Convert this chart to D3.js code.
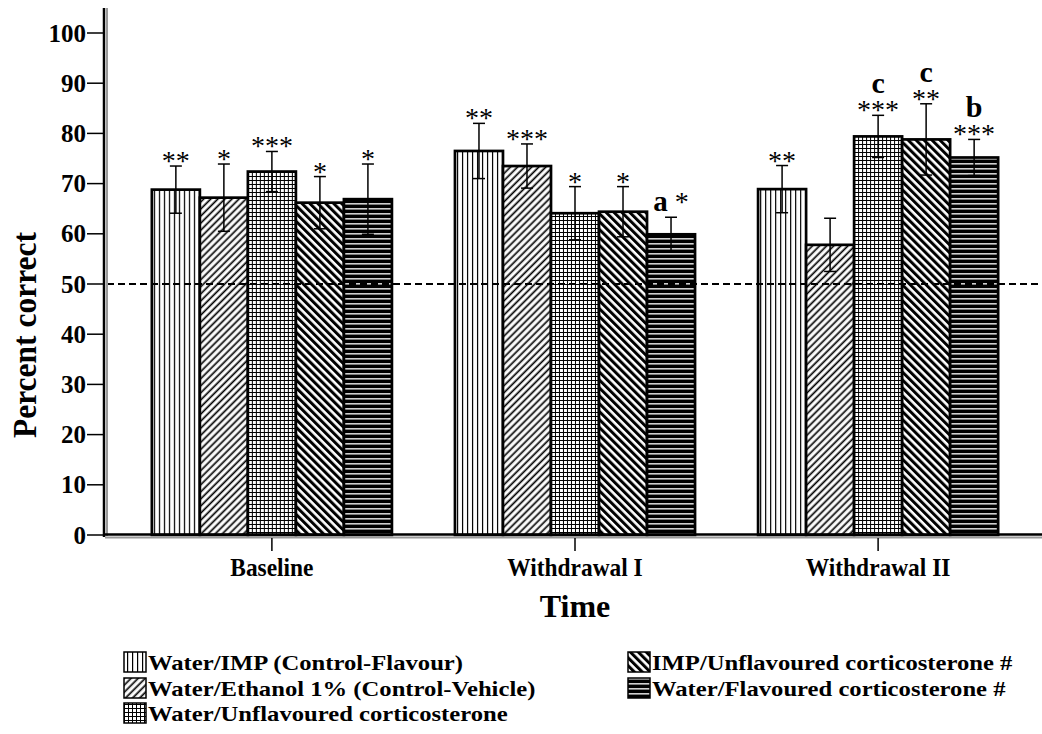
<!DOCTYPE html>
<html lang="en">
<head>
<meta charset="UTF-8">
<title>Percent correct over time</title>
<script src="https://d3js.org/d3.v7.min.js"></script>
<style>
  body { margin: 0; background: #fff; }
  svg { display: block; font-family: 'Liberation Serif', 'Times New Roman', serif; }
</style>
</head>
<body>
<svg id="chart" width="1042" height="734"></svg>
<script>
// groups on the x axis
const groups = ["Baseline", "Withdrawal I", "Withdrawal II"];

// the five treatment groups (legend order)
const series = [
  "Water/IMP (Control-Flavour)",
  "Water/Ethanol 1% (Control-Vehicle)",
  "Water/Unflavoured corticosterone",
  "IMP/Unflavoured corticosterone #",
  "Water/Flavoured corticosterone #"
];

// mean percent correct, one array per time point
const meanBaseline = [68.8, 67.2, 72.4, 66.2, 66.9];
const meanWithdrawal1 = [76.5, 73.5, 64.1, 64.4, 59.9];
const meanWithdrawal2 = [68.9, 57.8, 79.4, 78.8, 75.2];

// error (SEM)
const semBaseline = [4.7, 6.7, 4.0, 5.2, 7.0];
const semWithdrawal1 = [5.5, 4.4, 5.3, 5.0, 3.4];
const semWithdrawal2 = [4.7, 5.3, 4.2, 7.1, 3.6];

// significance marks
const starsBaseline = ["**", "*", "***", "*", "*"];
const starsWithdrawal1 = ["**", "***", "*", "*", "*"];
const starsWithdrawal2 = ["**", "", "***", "**", "***"];
const lettersWithdrawal1 = ["", "", "", "", "a"];
const lettersWithdrawal2 = ["", "", "c", "c", "b"];

const yTicks = [0, 10, 20, 30, 40, 50, 60, 70, 80, 90, 100];
const chanceLevel = 50;

const means = [meanBaseline, meanWithdrawal1, meanWithdrawal2];
const sems = [semBaseline, semWithdrawal1, semWithdrawal2];
const stars = [starsBaseline, starsWithdrawal1, starsWithdrawal2];
const letters = [["", "", "", "", ""], lettersWithdrawal1, lettersWithdrawal2];

const svg = d3.select("#chart");

// ---- fill patterns (black & white hatches) ----
const defs = svg.append("defs");

function pat(id, w, h, rot) {
  const p = defs.append("pattern")
    .attr("id", id)
    .attr("patternUnits", "userSpaceOnUse")
    .attr("width", w).attr("height", h);
  if (rot) p.attr("patternTransform", "rotate(" + rot + ")");
  return p;
}
// vertical lines
let p = pat("p0", 5, 10);
p.append("rect").attr("width", 5).attr("height", 10).attr("fill", "#fff");
p.append("rect").attr("x", 2).attr("width", 1.2).attr("height", 10).attr("fill", "#000");
// forward diagonal
p = pat("p1", 5, 10, 45);
p.append("rect").attr("width", 5).attr("height", 10).attr("fill", "#fff");
p.append("rect").attr("x", 1.5).attr("width", 1.7).attr("height", 10).attr("fill", "#000");
// grid
p = pat("p2", 4, 4);
p.append("rect").attr("width", 4).attr("height", 4).attr("fill", "#fff");
p.append("rect").attr("width", 4).attr("height", 1).attr("fill", "#000");
p.append("rect").attr("width", 1).attr("height", 4).attr("fill", "#000");
// backward diagonal, heavy
p = pat("p3", 5.6, 10, -45);
p.append("rect").attr("width", 5.6).attr("height", 10).attr("fill", "#fff");
p.append("rect").attr("x", 0).attr("width", 3).attr("height", 10).attr("fill", "#000");
// horizontal lines, heavy
p = pat("p4", 10, 5);
p.append("rect").attr("width", 10).attr("height", 5).attr("fill", "#000");
p.append("rect").attr("y", 3).attr("width", 10).attr("height", 1.6).attr("fill", "#d0d0d0");

// ---- scales ----
const y = d3.scaleLinear().domain([0, 100]).range([535, 33]);
const x0 = d3.scaleBand().domain(groups).range([107, 1043])
  .paddingInner(0.208).paddingOuter(0.148);
const x1 = d3.scaleBand().domain(d3.range(series.length)).range([0, x0.bandwidth()]);

// ---- bars ----
const g = svg.append("g");
groups.forEach((grp, gi) => {
  const gg = g.append("g").attr("transform", "translate(" + x0(grp) + ",0)");
  const rows = means[gi].map((m, i) => ({ i: i, m: m, e: sems[gi][i], s: stars[gi][i], l: letters[gi][i] }));

  gg.selectAll("rect.bar").data(rows).enter().append("rect")
    .attr("class", "bar")
    .attr("x", d => x1(d.i))
    .attr("y", d => y(d.m))
    .attr("width", x1.bandwidth())
    .attr("height", d => y(0) - y(d.m))
    .attr("fill", d => "url(#p" + d.i + ")")
    .attr("stroke", "#000")
    .attr("stroke-width", 2.7);

  // error bars
  const eb = gg.selectAll("g.err").data(rows).enter().append("g").attr("class", "err")
    .attr("stroke", "#000").attr("stroke-width", 1.5);
  const cx = d => x1(d.i) + x1.bandwidth() / 2;
  eb.append("line").attr("x1", cx).attr("x2", cx)
    .attr("y1", d => y(d.m - d.e)).attr("y2", d => y(d.m + d.e));
  eb.append("line").attr("x1", d => cx(d) - 6).attr("x2", d => cx(d) + 6)
    .attr("y1", d => y(d.m + d.e)).attr("y2", d => y(d.m + d.e));
  eb.append("line").attr("x1", d => cx(d) - 6).attr("x2", d => cx(d) + 6)
    .attr("y1", d => y(d.m - d.e)).attr("y2", d => y(d.m - d.e));

  // significance marks
  rows.forEach(d => {
    const top = y(d.m + d.e);
    if (d.l && gi === 1) {
      // letter on the same line as the star
      const t = gg.append("text").attr("x", cx(d)).attr("y", top - 6)
        .attr("text-anchor", "middle");
      t.append("tspan").attr("font-weight", "bold").attr("font-size", 29).text(d.l);
      t.append("tspan").attr("font-size", 28).text(" " + d.s);
      return;
    }
    const sb = top + 4;
    if (d.s) {
      gg.append("text").attr("x", cx(d)).attr("y", sb)
        .attr("text-anchor", "middle").attr("font-size", 28).text(d.s);
    }
    if (d.l) {
      gg.append("text").attr("x", cx(d)).attr("y", sb - 26)
        .attr("text-anchor", "middle").attr("font-size", 30)
        .attr("font-weight", "bold").text(d.l);
    }
  });
});

// chance line
svg.append("line")
  .attr("x1", 107).attr("x2", 1042)
  .attr("y1", y(chanceLevel)).attr("y2", y(chanceLevel))
  .attr("stroke", "#000").attr("stroke-width", 2).attr("stroke-dasharray", "7,4");

// ---- axes ----
svg.append("line").attr("x1", 104).attr("x2", 104).attr("y1", 8).attr("y2", 537)
  .attr("stroke", "#000").attr("stroke-width", 2.5);
svg.append("line").attr("x1", 107).attr("x2", 107).attr("y1", 8).attr("y2", 536)
  .attr("stroke", "#9a9a9a").attr("stroke-width", 2);
svg.append("line").attr("x1", 103).attr("x2", 1042).attr("y1", 534.5).attr("y2", 534.5)
  .attr("stroke", "#000").attr("stroke-width", 2.5);
svg.append("line").attr("x1", 105).attr("x2", 1042).attr("y1", 537.5).attr("y2", 537.5)
  .attr("stroke", "#9a9a9a").attr("stroke-width", 2);

const yAxis = svg.append("g");
yAxis.selectAll("line").data(yTicks).enter().append("line")
  .attr("x1", 87).attr("x2", 103)
  .attr("y1", d => y(d)).attr("y2", d => y(d))
  .attr("stroke", "#000").attr("stroke-width", 1.5);
yAxis.selectAll("text").data(yTicks).enter().append("text")
  .attr("x", 86).attr("y", d => y(d) + 8.5)
  .attr("text-anchor", "end").attr("font-size", 25).attr("font-weight", "bold")
  .text(d => d);

const xAxis = svg.append("g");
xAxis.selectAll("line").data(groups).enter().append("line")
  .attr("x1", d => x0(d) + x0.bandwidth() / 2).attr("x2", d => x0(d) + x0.bandwidth() / 2)
  .attr("y1", 538).attr("y2", 551)
  .attr("stroke", "#000").attr("stroke-width", 1.5);
xAxis.selectAll("text").data(groups).enter().append("text")
  .attr("x", d => x0(d) + x0.bandwidth() / 2).attr("y", 576)
  .attr("text-anchor", "middle").attr("font-size", 26).attr("font-weight", "bold")
  .text(d => d)
  .each(function() {
    const w = this.getComputedTextLength();
    d3.select(this).attr("textLength", w * 0.9).attr("lengthAdjust", "spacingAndGlyphs");
  });

// axis titles
svg.append("text")
  .attr("x", x0(groups[1]) + x0.bandwidth() / 2).attr("y", 617)
  .attr("text-anchor", "middle").attr("font-size", 32).attr("font-weight", "bold")
  .text("Time");

svg.append("text")
  .attr("transform", "translate(36,335) rotate(-90)")
  .attr("text-anchor", "middle").attr("font-size", 34).attr("font-weight", "bold")
  .attr("textLength", 206).attr("lengthAdjust", "spacingAndGlyphs")
  .text("Percent correct");

// ---- legend ----
const legendCols = [124, 628];
const legendRows = [662, 688, 713];
const legendPos = [[0, 0], [0, 1], [0, 2], [1, 0], [1, 1]];
const lg = svg.append("g");
series.forEach((name, i) => {
  const lx = legendCols[legendPos[i][0]];
  const ly = legendRows[legendPos[i][1]];
  lg.append("rect").attr("x", lx).attr("y", ly - 10).attr("width", 22).attr("height", 20)
    .attr("fill", "url(#p" + i + ")").attr("stroke", "#000").attr("stroke-width", 1.5);
  const t = lg.append("text").attr("x", lx + 24).attr("y", ly + 7.5)
    .attr("font-size", 22).attr("font-weight", "bold").text(name);
  const w = t.node().getComputedTextLength();
  t.attr("textLength", w * 1.12).attr("lengthAdjust", "spacingAndGlyphs");
});
</script>
</body>
</html>
